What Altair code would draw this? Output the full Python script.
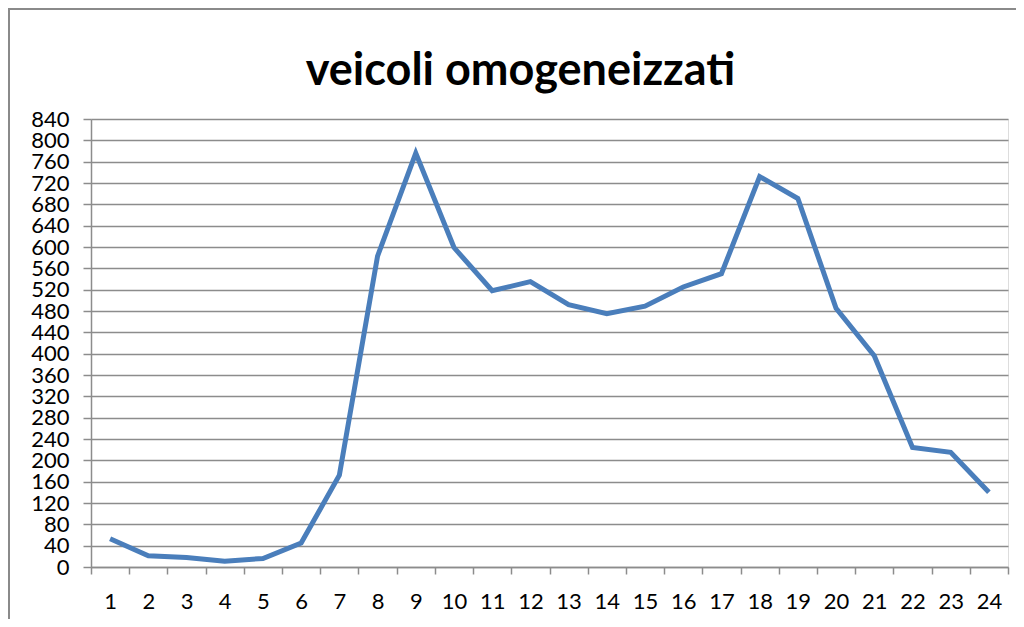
import altair as alt
import pandas as pd

hours = [str(h) for h in range(1, 25)]
values = [53, 21, 18, 11, 16, 45, 172, 583, 776, 599, 518, 535,
          492, 475, 489, 525, 550, 732, 691, 485, 396, 224, 215, 140]
y_ticks = list(range(0, 841, 40))

df = pd.DataFrame({"ora": hours, "veicoli": values})

GRID = "#8c8c8c"
FONT = "Lato"
W, H = 917, 448

line = alt.Chart(df).mark_line(color="#4a7ebb", strokeWidth=5, strokeJoin="miter", clip=False).encode(
    x=alt.X("ora:O", sort=hours, title=None,
            scale=alt.Scale(paddingInner=0, paddingOuter=0),
            axis=alt.Axis(labelAngle=0, labelFont=FONT, labelFontSize=22, labelColor="#000000",
                          labelPadding=17, tickBand="extent", tickSize=7, tickColor=GRID,
                          tickWidth=1.5, domainColor=GRID, domainWidth=1.5, grid=False)),
    y=alt.Y("veicoli:Q", title=None,
            scale=alt.Scale(domain=[0, 840], nice=False),
            axis=alt.Axis(values=y_ticks, labelFont=FONT, labelFontSize=22, labelColor="#000000",
                          labelPadding=14, tickSize=8, tickColor=GRID, tickWidth=1.5,
                          domainColor=GRID, domainWidth=1.5, gridColor=GRID, gridWidth=1.5,
                          labelOverlap=False, labelBaseline="middle")),
)

border_top = alt.Chart(df).mark_rule(color="#8a8a8a", strokeWidth=2).encode(
    x=alt.value(-83), x2=alt.value(W + 100), y=alt.value(-110)
)
border_left = alt.Chart(df).mark_rule(color="#8a8a8a", strokeWidth=2).encode(
    x=alt.value(-82), y=alt.value(-111), y2=alt.value(H + 200)
)

chart = alt.layer(border_top, border_left, line).properties(
    width=W, height=H,
    title=alt.TitleParams("veicoli omogeneizzati", font=FONT, fontSize=45, fontWeight="bold",
                          color="#000000", anchor="middle", dx=-29, dy=123, offset=0,
                          baseline="alphabetic"),
    padding={"left": 83, "top": 111, "right": 8, "bottom": 52},
    autosize=alt.AutoSizeParams(type="none"),
).configure_view(stroke=None).configure(background="white")

chart.save("out.html", embed_options={"renderer": "svg", "actions": False})
